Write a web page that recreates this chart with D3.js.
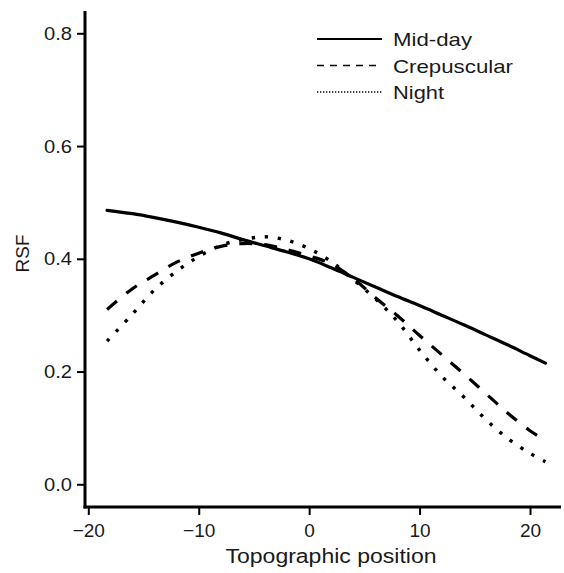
<!DOCTYPE html>
<html><head><meta charset="utf-8">
<script src="https://cdn.jsdelivr.net/npm/d3@7"></script>
<style>body{margin:0;background:#fff}svg{display:block;font-family:"Liberation Sans",Arial,sans-serif}</style>
</head><body><svg id="c" width="564" height="573"></svg>
<script>
const xs = [-18.3,-16,-14,-12,-10,-8,-6,-4,-2,0,2,4,6,8,10,12,14,16,18,20,21.4];
const midday = [0.486,0.480,0.473,0.465,0.456,0.446,0.434,0.423,0.412,0.400,0.384,0.367,0.350,0.333,0.317,0.300,0.283,0.265,0.247,0.228,0.215];
const crepuscular = [0.310,0.347,0.371,0.394,0.410,0.422,0.427,0.425,0.416,0.405,0.391,0.365,0.331,0.299,0.264,0.230,0.196,0.161,0.126,0.095,0.078];
const night = [0.254,0.302,0.345,0.378,0.404,0.424,0.434,0.439,0.433,0.418,0.395,0.363,0.329,0.289,0.238,0.192,0.155,0.115,0.081,0.055,0.040];
const seriesNames = ["Mid-day","Crepuscular","Night"];
const xTicks = [-20,-10,0,10,20];
const yTicks = [0,0.2,0.4,0.6,0.8];

const svg = d3.select("#c");
const x = d3.scaleLinear().domain([-20,20]).range([88.3,530]);
const y = d3.scaleLinear().domain([0,0.8]).range([484.3,33.3]);
const ff = "Liberation Sans, Arial, sans-serif";

// axes
const ya = svg.append("g").attr("transform","translate(85,0)")
  .call(d3.axisLeft(y).tickValues(yTicks).tickFormat(d3.format(".1f")).tickSize(8).tickPadding(5));
ya.select(".domain").remove();
ya.selectAll(".tick line").attr("stroke","#000").attr("stroke-width",2);
ya.selectAll(".tick text").attr("font-size",19).attr("fill","#1a1a1a").attr("font-family",ff)
  .attr("textLength",28).attr("lengthAdjust","spacingAndGlyphs");

const xa = svg.append("g").attr("transform","translate(0,507)")
  .call(d3.axisBottom(x).tickValues(xTicks).tickSize(8).tickPadding(9));
xa.select(".domain").remove();
xa.selectAll(".tick line").attr("stroke","#000").attr("stroke-width",2);
xa.selectAll(".tick text").attr("font-size",19).attr("fill","#1a1a1a").attr("font-family",ff);

svg.append("line").attr("x1",85).attr("x2",85).attr("y1",11).attr("y2",508.5).attr("stroke","#000").attr("stroke-width",3);
svg.append("line").attr("x1",83.5).attr("x2",561).attr("y1",507).attr("y2",507).attr("stroke","#000").attr("stroke-width",3);

svg.append("text").attr("x",331).attr("y",563).attr("text-anchor","middle").attr("font-size",20)
  .attr("textLength",211).attr("lengthAdjust","spacingAndGlyphs").attr("fill","#1a1a1a").text("Topographic position");
svg.append("text").attr("transform","translate(28.5,253.5) rotate(-90)").attr("text-anchor","middle").attr("font-size",19).attr("fill","#1a1a1a").text("RSF");

// lines
const line = d3.line().x((d,i)=>x(xs[i])).y(d=>y(d)).curve(d3.curveCatmullRom);
const styles = [
  {data:midday, dash:null, lw:3.2, cap:"round"},
  {data:crepuscular, dash:"13,12", lw:3.2, cap:"butt"},
  {data:night, dash:"3.3,9.7", lw:3.4, cap:"butt"}
];
styles.forEach(s=>{
  svg.append("path").attr("d",line(s.data)).attr("fill","none").attr("stroke","#000")
    .attr("stroke-width",s.lw).attr("stroke-linecap",s.cap)
    .attr("stroke-dasharray",s.dash);
});

// legend
const legDash = [null,"7,6","1.3,1.7"];
const legY = [39,65.5,92];
const legTextY = [46,73,99];
const legLen = [79,120,51];
seriesNames.forEach((n,i)=>{
  svg.append("line").attr("x1",317).attr("x2",382).attr("y1",legY[i]).attr("y2",legY[i])
    .attr("stroke","#000").attr("stroke-width",i==0?2:1.6).attr("stroke-dasharray",legDash[i]);
  svg.append("text").attr("x",393).attr("y",legTextY[i]).attr("font-size",19)
    .attr("textLength",legLen[i]).attr("lengthAdjust","spacingAndGlyphs").attr("fill","#1a1a1a").text(n);
});
</script></body></html>
